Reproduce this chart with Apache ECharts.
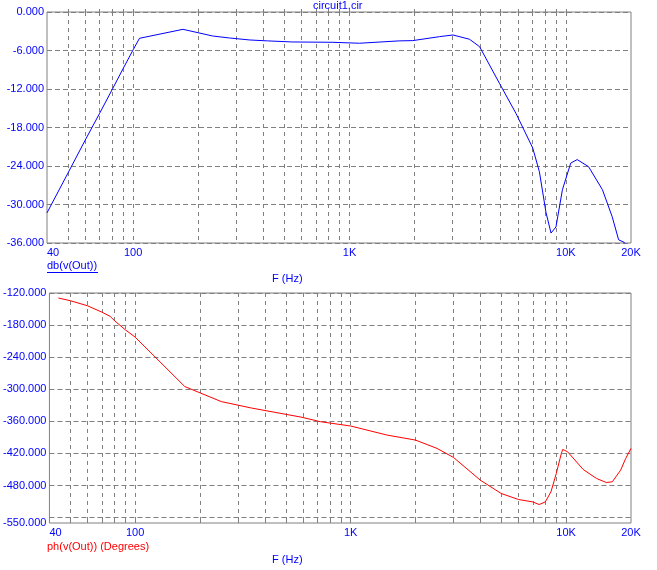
<!DOCTYPE html>
<html>
<head>
<meta charset="utf-8">
<script src="https://cdn.jsdelivr.net/npm/echarts@6/dist/echarts.min.js"></script>
<style>
html,body{margin:0;padding:0;background:#fff;}
#chart{width:657px;height:570px;}
</style>
</head>
<body>
<div id="chart"></div>
<script>
// ---- Data (frequency in Hz) ----
var magFreq = [40, 50, 60, 70, 80, 90, 100, 107, 170, 233, 279, 346, 418, 544, 832, 1112, 1696, 1960, 2609, 3008, 3588, 3992, 4930, 5880, 7030, 7546, 8100, 8540, 9000, 9640, 10530, 11280, 12730, 14760, 16370, 17530, 18600, 20000];
var magDb   = [-31.3, -25.1, -20.0, -15.8, -12.1, -8.8, -5.9, -4.1, -2.7, -3.74, -4.05, -4.36, -4.5, -4.67, -4.72, -4.87, -4.5, -4.46, -3.84, -3.58, -4.25, -5.4, -11.1, -15.8, -21.2, -24.9, -31.3, -34.45, -33.5, -27.7, -23.55, -23.0, -24.1, -27.7, -31.9, -35.5, -35.9, -37.5];

var phFreq = [44, 50, 60, 70, 76.6, 80, 90, 100, 170, 251, 346, 588, 724, 1000, 1476, 2000, 2516, 3000, 4000, 5000, 6000, 7000, 7500, 8000, 8500, 9000, 9500, 9640, 10160, 12000, 13840, 15360, 16370, 17900, 18900, 20000];
var phDeg  = [-129.4, -134.4, -143.8, -155.7, -163.8, -171.3, -188.8, -202.5, -295, -323, -335, -352, -360.6, -368.7, -385.6, -395, -410.5, -427.4, -470, -494.9, -506, -510.6, -515.5, -510.6, -491.9, -457.4, -420, -412.4, -416.9, -449.9, -466.8, -474.3, -473, -451.2, -429.3, -410.5];

var gridFreqs  = [50, 60, 70, 80, 90, 100, 200, 300, 400, 500, 600, 700, 800, 900, 1000, 2000, 3000, 4000, 5000, 6000, 7000, 8000, 9000, 10000];
var labelFreqs = [40, 100, 1000, 10000, 20000];
var magTicks   = [-36, -30, -24, -18, -12, -6, 0];
var phGridVals = [-540, -480, -420, -360, -300, -240, -180, -120];
var phLabelVals = [-550, -480, -420, -360, -300, -240, -180, -120];

var FONT = 'Liberation Sans, Arial, sans-serif';
var BLUE = '#0000FF', RED = '#FF0000', GRAY = '#808080';
var lg = function (f) { return Math.log10(f); };
var xMin = lg(40), xMax = lg(20000);

function fmtFreq(v) {
  var f = Math.round(Math.pow(10, v));
  if (f >= 1000) return (f / 1000) + 'K';
  return String(f);
}

function xAxisCfg(gridIndex, position, showLabels) {
  return {
    type: 'value', gridIndex: gridIndex, position: position,
    min: xMin, max: xMax,
    axisLine: { show: false },
    axisTick: { show: true, inside: true, length: 3, lineStyle: { color: GRAY },
      customValues: gridFreqs.map(lg) },
    splitLine: { show: position === 'bottom', lineStyle: { color: GRAY, type: [4, 4], width: 1 } },
    axisLabel: { show: showLabels, customValues: labelFreqs.map(lg), formatter: fmtFreq,
      color: BLUE, fontFamily: FONT, fontSize: 11, margin: 4, alignMinLabel: 'left',
      showMinLabel: true, showMaxLabel: true, hideOverlap: false }
  };
}

var chart = echarts.init(document.getElementById('chart'), null, { renderer: 'canvas' });

var option = {
  animation: false,
  backgroundColor: '#fff',
  grid: [
    { left: 47, width: 584, top: 12, height: 231, show: true, borderColor: GRAY, borderWidth: 1, containLabel: false },
    { left: 47, width: 584, top: 293, height: 230, show: true, borderColor: GRAY, borderWidth: 1, containLabel: false }
  ],
  xAxis: [
    xAxisCfg(0, 'bottom', true),
    xAxisCfg(1, 'bottom', true),
    xAxisCfg(1, 'top', false)
  ],
  yAxis: [
    {
      type: 'value', gridIndex: 0, min: -36, max: 0, interval: 6,
      axisLine: { show: false }, axisTick: { show: false },
      splitLine: { show: true, lineStyle: { color: GRAY, type: [5, 3], width: 1 } },
      axisLabel: { color: BLUE, fontFamily: FONT, fontSize: 11, margin: 3,
        customValues: magTicks,
        formatter: function (v) { return v.toFixed(3); } }
    },
    {
      type: 'value', gridIndex: 1, min: -550, max: -120,
      axisLine: { show: false },
      axisTick: { show: false, customValues: phGridVals },
      splitLine: { show: true, lineStyle: { color: GRAY, type: [5, 3], width: 1 } },
      axisLabel: { color: BLUE, fontFamily: FONT, fontSize: 11, margin: 3,
        customValues: phLabelVals,
        formatter: function (v) { return v.toFixed(3); } }
    }
  ],
  series: [
    {
      type: 'line', xAxisIndex: 0, yAxisIndex: 0, symbol: 'none', clip: true,
      lineStyle: { color: BLUE, width: 1 },
      data: magFreq.map(function (f, i) { return [lg(f), magDb[i]]; })
    },
    {
      type: 'line', xAxisIndex: 1, yAxisIndex: 1, symbol: 'none', clip: true,
      lineStyle: { color: RED, width: 1 },
      data: phFreq.map(function (f, i) { return [lg(f), phDeg[i]]; })
    }
  ],
  graphic: [
    { type: 'text', left: 313, top: 0, style: { text: 'circuit1.cir', fill: BLUE, font: '11px ' + FONT } },
    { type: 'text', left: 47, top: 260, style: { text: 'db(v(Out))', fill: BLUE, font: '11px ' + FONT } },
    { type: 'line', shape: { x1: 47, y1: 272.5, x2: 98, y2: 272.5 }, style: { stroke: BLUE, lineWidth: 1 } },
    { type: 'text', left: 272, top: 273, style: { text: 'F (Hz)', fill: BLUE, font: '11px ' + FONT } },
    { type: 'text', left: 47, top: 541, style: { text: 'ph(v(Out)) (Degrees)', fill: RED, font: '11px ' + FONT } },
    { type: 'text', left: 272, top: 554, style: { text: 'F (Hz)', fill: BLUE, font: '11px ' + FONT } }
  ]
};
chart.setOption(option);
</script>
</body>
</html>
